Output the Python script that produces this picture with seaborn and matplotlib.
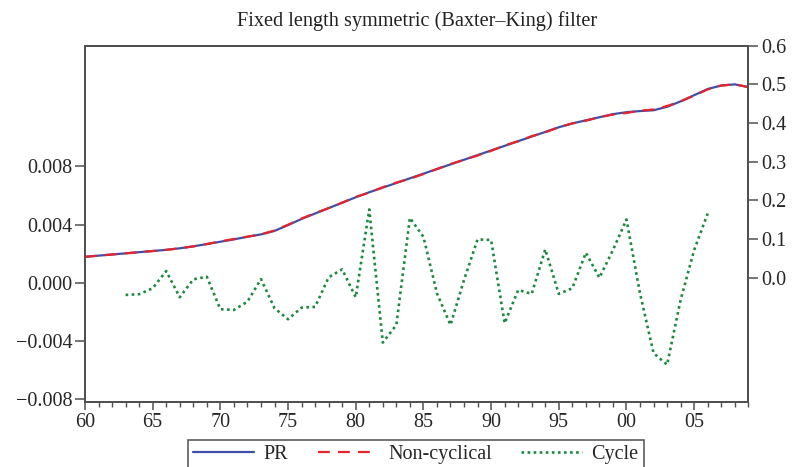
import numpy as np
import pandas as pd
import matplotlib
matplotlib.use("Agg")
import matplotlib.pyplot as plt
from matplotlib.ticker import MultipleLocator
import seaborn as sns

years = list(range(1960, 2010))
pr = [0.054, 0.057, 0.060, 0.063, 0.066, 0.069, 0.072, 0.076, 0.081, 0.087,
      0.093, 0.099, 0.106, 0.112, 0.121, 0.136, 0.152, 0.166, 0.180, 0.194,
      0.208, 0.221, 0.233, 0.245, 0.257, 0.269, 0.281, 0.293, 0.305, 0.317,
      0.329, 0.341, 0.353, 0.365, 0.377, 0.389, 0.399, 0.407, 0.415, 0.423,
      0.428, 0.431, 0.433, 0.442, 0.456, 0.472, 0.488, 0.497, 0.500, 0.493]
noncyc = [0.054, 0.057, 0.060, 0.063, 0.066, 0.069, 0.072, 0.076, 0.081, 0.087,
          0.094, 0.100, 0.106, 0.112, 0.122, 0.137, 0.153, 0.167, 0.180, 0.194,
          0.209, 0.220, 0.234, 0.246, 0.256, 0.268, 0.281, 0.294, 0.305, 0.316,
          0.328, 0.342, 0.353, 0.366, 0.376, 0.389, 0.399, 0.406, 0.415, 0.422,
          0.426, 0.432, 0.435, 0.444, 0.456, 0.471, 0.487, 0.497, 0.500, 0.493]
cycle_years = list(range(1963, 2007))
cycle = [-0.00083, -0.00078, -0.00037, 0.00081, -0.00099, 0.00024, 0.00042,
         -0.00181, -0.00186, -0.00129, 0.00026, -0.00174, -0.00250, -0.00170,
         -0.00165, 0.00038, 0.00093, -0.00099, 0.00504, -0.00410, -0.00289,
         0.00446, 0.00316, -0.00072, -0.00289, 0.00020, 0.00298, 0.00294,
         -0.00277, -0.00049, -0.00076, 0.00230, -0.00076, -0.00037, 0.00207,
         0.00035, 0.00225, 0.00435, -0.00072, -0.00482, -0.00562, -0.00117,
         0.00225, 0.00476]

xtick_pos = [1960, 1965, 1970, 1975, 1980, 1985, 1990, 1995, 2000, 2005]
xtick_labels = ['60', '65', '70', '75', '80', '85', '90', '95', '00', '05']
left_ticks = [-0.008, -0.004, 0.000, 0.004, 0.008]
left_labels = ['\u22120.008', '\u22120.004', '0.000', '0.004', '0.008']
right_ticks = [0.0, 0.1, 0.2, 0.3, 0.4, 0.5, 0.6]
right_labels = ['0.0', '0.1', '0.2', '0.3', '0.4', '0.5', '0.6']

sns.set_theme(style="white")
plt.rcParams['font.family'] = ['Liberation Serif', 'DejaVu Serif']

df_trend = pd.DataFrame({'year': years, 'PR': pr, 'Non-cyclical': noncyc})
df_cyc = pd.DataFrame({'year': cycle_years, 'Cycle': cycle})

fig = plt.figure(figsize=(7.94, 4.67), dpi=100)
ax = fig.add_axes([85/794, 1-402/467, (748.3-85)/794, (402-45.7)/467])
ax2 = ax.twinx()

c_blue = '#3f4fa8'
c_red = '#e8232b'
c_green = '#1b8a3e'

sns.lineplot(data=df_cyc, x='year', y='Cycle', ax=ax, color=c_green,
             linestyle=(0, (1, 1.3)), linewidth=1.9, label='Cycle', legend=False)
sns.lineplot(data=df_trend, x='year', y='PR', ax=ax2, color=c_blue,
             linewidth=1.6, label='PR', legend=False)
sns.lineplot(data=df_trend, x='year', y='Non-cyclical', ax=ax2, color=c_red,
             linestyle=(0, (5.3, 3.7)), linewidth=1.6, label='Non-cyclical', legend=False)

ax.set_xlim(1960, 2009)
ax.set_ylim(-0.00818, 0.01628)
ax2.set_ylim(-0.3215, 0.6)

ax.set_xticks(xtick_pos, xtick_labels)
ax.xaxis.set_minor_locator(MultipleLocator(1))
ax.set_yticks(left_ticks, left_labels)
ax2.set_yticks(right_ticks, right_labels)

ax.set_xlabel('')
ax.set_ylabel('')
ax2.set_ylabel('')

spine_c = '#505050'
for a in (ax, ax2):
    for s in a.spines.values():
        s.set_color(spine_c)
        s.set_linewidth(1.3)

ax.tick_params(axis='x', which='major', direction='out', length=6, width=1.1,
               color=spine_c, labelsize=14.5, pad=2, bottom=True)
ax.tick_params(axis='x', which='minor', direction='out', length=3.5, width=1.0,
               color=spine_c, bottom=True)
ax.tick_params(axis='y', which='major', direction='out', length=7, width=1.1,
               color=spine_c, labelsize=14.5, pad=2, left=True)
ax2.tick_params(axis='y', which='major', direction='out', length=7, width=1.1,
                color=spine_c, labelsize=14.5, pad=2, right=True)

fig.text(0.525, 1-21/467, 'Fixed length symmetric (Baxter\u2013King) filter',
         ha='center', va='center', fontsize=14.6, color='#222222')

handles = [ax2.get_lines()[0], ax2.get_lines()[1], ax.get_lines()[0]]
labels = ['PR', 'Non-cyclical', 'Cycle']
leg = fig.legend(handles, labels, loc='upper center', ncol=3,
                 bbox_to_anchor=(0.524, 1-440/467), frameon=True, fancybox=False,
                 fontsize=14.5, handlelength=3.0, handletextpad=0.5,
                 columnspacing=1.45, borderpad=0.25, borderaxespad=0)
leg.get_frame().set_edgecolor('#333333')
leg.get_frame().set_linewidth(1.2)

fig.savefig('out.png', dpi=100)
